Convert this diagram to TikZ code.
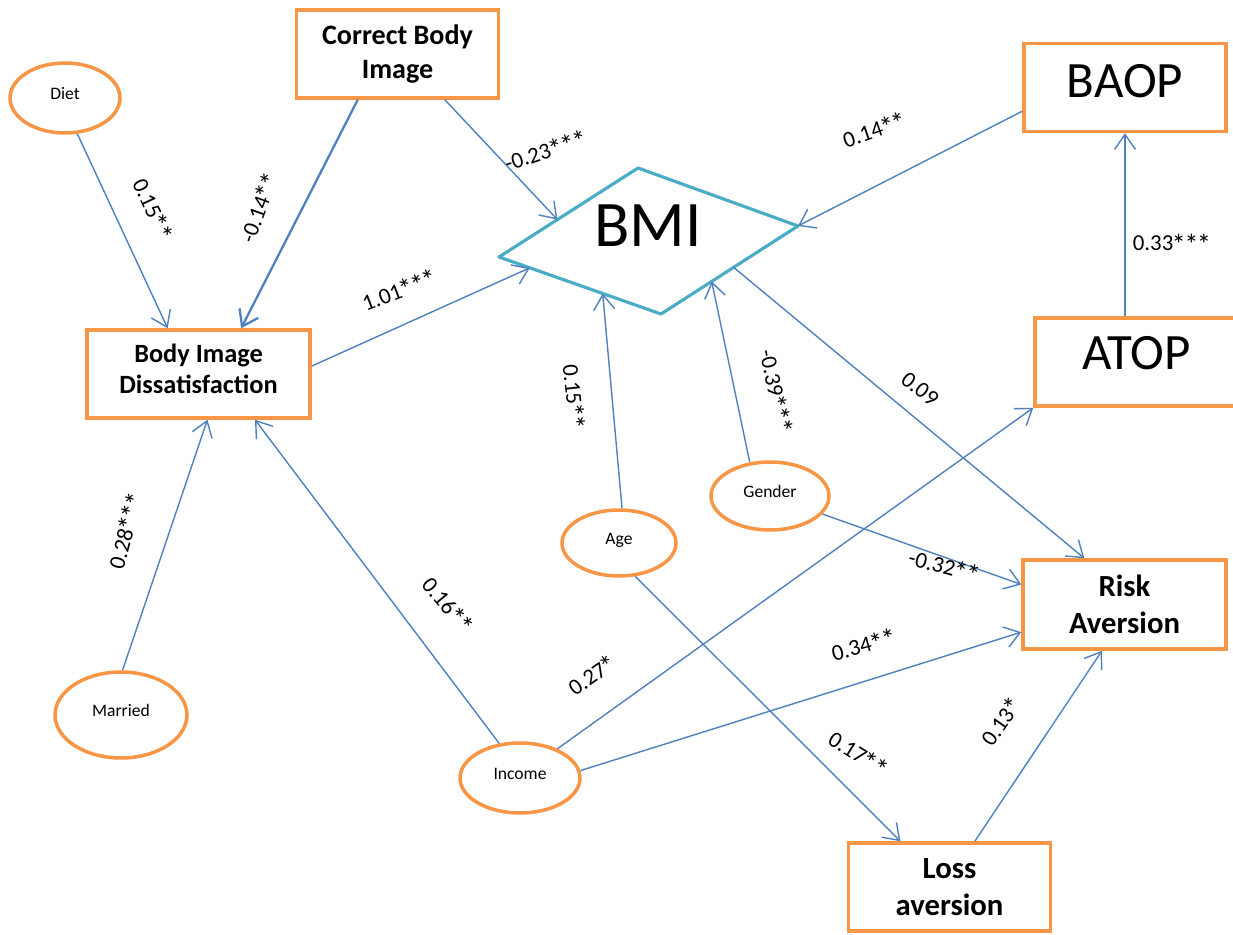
\documentclass[tikz,border=0pt]{standalone}
\usepackage{fontspec}
\setmainfont{Carlito}
\usetikzlibrary{calc}
\usetikzlibrary{shapes.geometric}
\usetikzlibrary{arrows.meta}
\definecolor{boxorange}{HTML}{F79646}
\definecolor{linkblue}{HTML}{4F81BD}
\definecolor{bmiteal}{HTML}{4BACC6}
\newcommand{\sigst}{\kern-0.07em\raisebox{-0.3ex}{\scalebox{1.25}{*}}}

\begin{document}
\begin{tikzpicture}[x=0.02cm, y=-0.02cm,
    varbox/.style={draw=boxorange, line width=2pt, minimum width=4.04cm, minimum height=1.76cm,
        inner sep=0pt, align=center, font=\fontsize{17.5}{21}\selectfont\bfseries},
    bigbox/.style={varbox, font=\fontsize{29}{33}\selectfont, text depth=7pt},
    oval/.style={draw=boxorange, line width=2pt, ellipse, inner sep=0pt,
        font=\fontsize{10}{12}\selectfont, text depth=5pt},
    link/.style={draw=linkblue, line width=0.8pt, -{Straight Barb[length=3mm,width=4.2mm]}},
    lbl/.style={font=\fontsize{13}{15}\selectfont, inner sep=0pt}]
    \useasboundingbox (0,0) rectangle (1233,935);

    % Boxes
    \node[varbox, font=\fontsize{16}{19.3}\selectfont\bfseries] (cbi) at (397.5,54) {Correct Body\\Image};
    \node[varbox, minimum width=4.46cm, font=\fontsize{15}{17.6}\selectfont\bfseries, text depth=6pt] (bid) at (198.5,374) {Body Image\\Dissatisfaction};
    \node[bigbox] (baop) at (1125,87.5) {BAOP};
    \node[bigbox, minimum width=4.06cm, text depth=10pt] (atop) at (1136.5,362) {ATOP};
    \node[varbox, minimum width=4.06cm, minimum height=1.78cm] (risk) at (1124.5,604.5) {Risk\\Aversion};
    \node[varbox] (loss) at (949.5,887) {Loss\\aversion};

    % Ovals
    \node[oval, minimum width=2.2cm, minimum height=1.4cm] (diet) at (65,98) {Diet};
    \node[oval, minimum width=2.64cm, minimum height=1.72cm] (married) at (121,715) {Married};
    \node[oval, minimum width=2.4cm, minimum height=1.4cm] (income) at (520,778) {Income};
    \node[oval, minimum width=2.28cm, minimum height=1.32cm] (age) at (619,543) {Age};
    \node[oval, minimum width=2.36cm, minimum height=1.36cm] (gender) at (770,496) {Gender};

    % BMI diamond
    \coordinate (bmiT) at (638,168);
    \coordinate (bmiR) at (798,226);
    \coordinate (bmiB) at (661,314);
    \coordinate (bmiL) at (499,257);
    \draw[bmiteal, line width=1.8pt, line join=round] (bmiT) -- (bmiR) -- (bmiB) -- (bmiL) -- cycle;
    \node[font=\fontsize{37}{42}\selectfont] (bmi) at (648,226) {BMI};

    % Paths
    \draw[link] (diet.-71) -- (bid.124);
    \draw[link, line width=1.3pt] (cbi.-131) -- (bid.47);
    \draw[link] (cbi.-44) -- ($(bmiL)!0.42!(bmiT)$);
    \draw[link] (bid.4) -- ($(bmiL)!0.19!(bmiB)$);
    \draw[link] (baop.193) -- (bmiR);
    \draw[link] (atop.north -| baop.south) -- (baop.south);
    \draw[link] (age.85) -- ($(bmiL)!0.64!(bmiB)$);
    \draw[link] (gender.121) -- ($(bmiB)!0.37!(bmiR)$);
    \draw[link] ($(bmiB)!0.53!(bmiR)$) -- (risk.131);
    \draw[link] (gender.-19) -- (risk.169);
    \draw[link] (income.38) -- (atop.south west);
    \draw[link] (income.7) -- (risk.195);
    \draw[link] (income.121) -- (bid.-39);
    \draw[link] (married.88) -- (bid.-79);
    \draw[link] (age.-64) -- (loss.137);
    \draw[link] (loss.61) -- (risk.-116);

    % Coefficients
    \node[lbl, rotate=-65] (c-diet) at (152,210) {0.15\sigst\sigst};
    \node[lbl, rotate=70] (c-cbi-bid) at (260,208) {-0.14\sigst\sigst};
    \node[lbl, rotate=18] (c-cbi-bmi) at (546,152) {-0.23\sigst\sigst\sigst};
    \node[lbl, rotate=21] (c-bid) at (400,291) {1.01\sigst\sigst\sigst};
    \node[lbl, rotate=19] (c-baop) at (875,131) {0.14\sigst\sigst};
    \node[lbl] (c-atop) at (1172,244) {0.33\sigst\sigst\sigst};
    \node[lbl, rotate=-84] (c-age-bmi) at (573,397) {0.15\sigst\sigst};
    \node[lbl, rotate=-78] (c-gender-bmi) at (775,392) {-0.39\sigst\sigst\sigst};
    \node[lbl, rotate=-38] (c-bmi) at (920,389) {0.09};
    \node[lbl, rotate=-15] (c-gender-risk) at (944,567) {-0.32\sigst\sigst};
    \node[lbl, rotate=35] (c-income-atop) at (593,676) {0.27\sigst};
    \node[lbl, rotate=15] (c-income-risk) at (864,646) {0.34\sigst\sigst};
    \node[lbl, rotate=-50] (c-income-bid) at (447,606) {0.16\sigst\sigst};
    \node[lbl, rotate=75] (c-married) at (127,531) {0.28\sigst\sigst\sigst};
    \node[lbl, rotate=-32] (c-age-loss) at (858,755) {0.17\sigst\sigst};
    \node[lbl, rotate=55] (c-loss) at (1002,722) {0.13\sigst};
\end{tikzpicture}
\end{document}
